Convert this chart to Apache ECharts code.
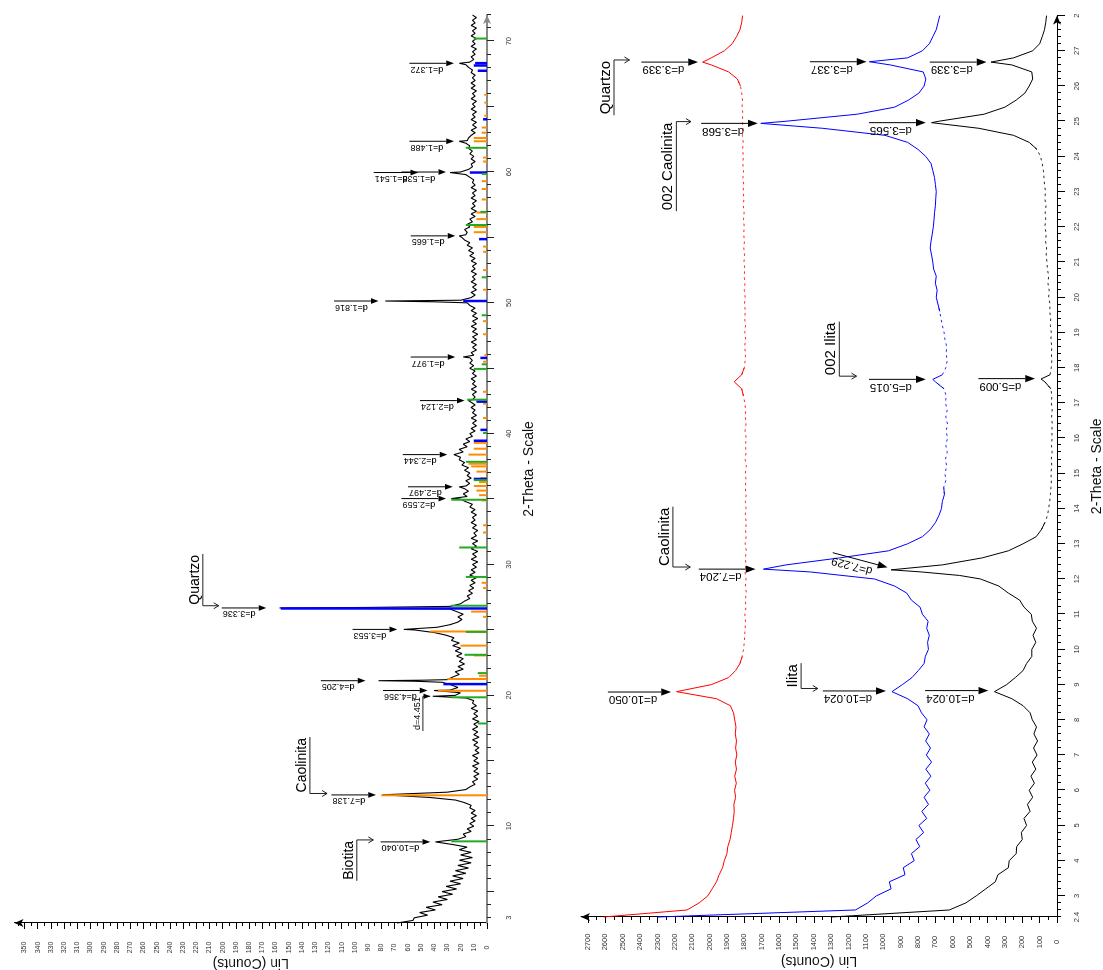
<!DOCTYPE html>
<html><head><meta charset="utf-8">
<script src="https://cdn.jsdelivr.net/npm/echarts@6/dist/echarts.min.js"></script>
<style>
html,body{margin:0;padding:0;background:#fff;overflow:hidden;width:1103px;height:970px;}
#chart{position:absolute;left:0;top:0;width:970px;height:1103px;transform-origin:0 0;transform:translateY(970px) rotate(-90deg);}
</style></head><body><div id="chart"></div>
<script>
// ---------------- DATA ----------------
// Upper diffractogram (2-Theta 2.6 .. 72, step 0.2) - Lin counts
const topScanStart = 2.6, topScanStep = 0.2;
const topScanCounts = [
 68,56,55,45,51,39,46,34,41,30,
 37,26,34,23,31,20,28,18,26,16,
 24,14,22,12,21,11,20,12,21,15,
 26,39,22,16,18,12,15,10,13,9,
 12,8,12,9,13,12,17,24,44,79,
 30,16,13,9,11,7,10,6,10,7,
 11,6,10,7,11,6,9,6,10,7,
 11,6,10,7,11,7,10,6,11,7,
 10,7,12,8,11,10,16,24,20,28,
 22,27,34,30,26,21,24,18,22,17,
 21,18,23,19,24,20,26,21,27,25,
 31,40,55,38,28,22,19,22,18,23,
 28,28,20,17,13,15,11,14,10,13,
 9,12,8,13,9,12,8,11,7,12,
 8,11,7,12,8,11,7,12,8,10,
 7,11,8,12,9,11,8,12,9,13,
 11,16,20,15,18,14,17,16,13,16,
 12,15,13,17,14,19,17,21,20,25,
 18,21,15,18,13,16,11,13,9,12,
 8,11,8,12,8,11,9,12,9,12,
 11,9,11,8,12,8,11,9,12,8,
 11,9,13,10,13,11,13,10,12,8,
 11,8,12,8,11,7,11,8,12,8,
 11,7,11,8,12,9,13,15,20,12,
 9,12,8,11,8,12,9,11,8,12,
 9,11,8,12,9,13,10,14,11,15,
 13,17,19,16,15,17,13,15,11,13,
 9,12,8,12,9,11,8,12,9,11,
 8,12,9,11,10,13,16,20,14,11,
 12,9,12,10,13,11,14,13,16,15,
 14,12,9,12,8,11,8,12,9,11,
 8,12,9,11,8,12,9,11,8,12,
 9,12,9,11,9,12,11,14,16,13,
 10,12,9,11,8,12,9,11,8,12,
 9,11,8,12,9,11,8,11
];
const topScanPeaks = [[19.93,41],[20.37,40],[21.08,55],[21.12,82],[21.16,48],[25.04,63],
 [26.64,95],[26.68,157],[26.72,90],[35.04,27],[35.94,21],[42.53,14],[45.86,18],
 [50.08,40],[50.14,77],[50.18,40],[55.12,21],[59.96,28],[62.35,21],[68.31,21]];

// reference stick patterns (2-Theta, height)
const quartzSticks = [[20.86,33],[26.64,156],[36.54,10],[39.46,10],[40.29,5],[42.45,8],[45.79,5],
 [50.14,18],[54.87,6],[59.96,13],[64.03,3],[67.74,7],[68.14,10],[68.32,9]];
const kaoliniteSticks = [[12.36,80],[20.35,37],[21.25,30],[21.5,6],[23.05,10],[23.8,20],[24.88,43],
 [26.0,3],[26.4,12],[28.2,3],[28.6,4],[32.45,3],[33.0,3],[34.9,4],[35.3,6],[35.65,8],[36.0,10],
 [36.3,6],[36.6,5],[37.1,8],[37.5,12],[37.7,14],[38.4,14],[38.85,10],[39.3,10],[41.2,3],[42.3,3],
 [43.2,3],[45.5,3],[46.0,2],[47.6,3],[48.6,3],[51.0,3],[52.5,3],[53.9,3],[54.3,3],[55.4,10],
 [55.8,10],[56.4,8],[56.9,8],[57.9,4],[58.7,4],[59.3,4],[60.8,3],[61.1,3],[62.35,10],[62.6,10],
 [63.0,4],[63.4,4],[64.3,2],[65.3,2],[65.9,2]];
const micaSticks = [[8.84,27],[17.85,7],[19.85,27],[21.7,7],[23.1,17],[24.85,16],[26.85,27],[29.05,16],
 [31.3,21],[34.95,27],[36.45,10],[37.85,16],[40.05,3],[42.6,15],[44.95,10],[45.3,4],[49.05,4],
 [51.95,4],[55.95,16],[56.95,5],[59.85,4],[61.85,16],[70.2,10]];

// Lower diffractograms (2-Theta 2.4 .. 28, step 0.2)
const lowScanStart = 2.4, lowScanStep = 0.2;
const blackCounts = [
 1300,620,525,465,410,355,340,280,275,235,
 232,200,205,175,190,155,170,140,160,130,
 150,122,142,115,135,112,133,118,142,155,
 195,260,360,290,240,195,175,145,145,122,
 138,118,142,148,190,215,280,335,440,780,
 660,430,280,195,120,90,70,55,48,42,
 38,35,32,35,30,33,28,32,28,30,
 27,31,28,32,30,35,70,40,33,30,
 32,30,35,33,38,36,42,40,48,45,
 52,48,55,58,62,60,66,62,70,65,
 68,63,70,66,72,75,78,85,95,115,
 160,250,450,680,420,300,235,185,160,140,
 145,260,250,140,100,85,72,65,60
];
const blackPeaks = [[12.1,560],[12.26,955],[17.68,92],[24.96,722],[26.68,380]];
const blueCounts = [
 2300,1160,1090,1040,955,965,875,885,822,838,
 790,812,768,795,750,778,740,765,732,758,
 726,755,722,752,728,756,735,765,748,780,
 800,860,950,890,835,798,765,758,740,745,
 735,750,742,775,788,838,865,935,1050,1420,
 1560,1250,970,860,775,730,700,680,665,660,
 648,652,640,645,635,642,632,640,630,638,
 630,640,632,642,638,650,700,660,640,632,
 638,635,645,650,660,668,675,685,695,690,
 700,695,710,715,722,730,725,718,712,708,
 705,700,698,695,700,705,715,725,755,800,
 860,990,1350,1560,1150,935,855,795,765,755,
 770,960,860,775,735,715,695,685,675
];
const bluePeaks = [[12.28,1690],[17.67,715],[24.94,1705],[26.69,1080]];
const redCounts = [
 2610,2130,2060,2010,1985,1960,1945,1925,1915,1900,
 1895,1882,1875,1868,1862,1858,1860,1850,1856,1846,
 1855,1845,1852,1843,1850,1845,1852,1848,1855,1862,
 1880,1960,2190,1990,1890,1850,1825,1812,1805,1800,
 1798,1795,1793,1797,1790,1795,1788,1794,1790,1796,
 1790,1794,1788,1795,1790,1793,1788,1795,1790,1794,
 1789,1795,1790,1794,1788,1795,1790,1793,1789,1796,
 1790,1794,1792,1797,1805,1815,1858,1815,1800,1795,
 1793,1798,1792,1797,1793,1798,1794,1799,1795,1800,
 1796,1801,1797,1802,1798,1803,1799,1804,1800,1805,
 1801,1806,1802,1807,1803,1808,1804,1809,1805,1810,
 1806,1811,1807,1812,1808,1813,1810,1815,1822,1840,
 1890,1990,1990,1915,1870,1845,1825,1815,1810
];
const redPeaks = [[26.68,2040]];

// tick labels
const topThetaLabels = [3,10,20,30,40,50,60,70];
const lowThetaLabels = [2.4,3,4,5,6,7,8,9,10,11,12,13,14,15,16,17,18,19,20,21,22,23,24,25,26,27,28];
const lowThetaLabelText = {28:'2'};

// annotations: [text, 2-Theta, arrow tip count, tilt deg]
const topDLabels = [['d=10.040',8.8,43],['d=7.138',12.39,84],['d=4.356',20.37,45],['d=4.205',21.12,92],
 ['d=3.553',25.04,68],['d=3.336',26.68,167],['d=2.559',35.04,31],['d=2.497',35.94,26],['d=2.344',38.4,30],
 ['d=2.124',42.53,17],['d=1.977',45.86,24],['d=1.816',50.14,82],['d=1.665',55.12,24],['d=1.538',60.0,31],
 ['d=1.541',59.96,52],['d=1.488',62.35,25],['d=1.372',68.31,25]];
// [text, 2-Theta, arrow tip count, underline count, side]
const topLLabels = [['d=4.451',19.93,43,48.5,-1]];
const topMinerals = [['Biotita',8.95,86,98.5,-1],['Caolinita',12.5,121,134,1],['Quartzo',26.85,203,215,1]];
const lowDLabels = [['d=10.050',8.79,2222],['d=10.024',8.82,985],['d=10.024',8.83,396],['d=7.204',12.28,1736],
 ['d=7.229',12.33,976,15],['d=5.015',17.67,756],['d=5.009',17.69,126],['d=3.568',24.94,1722],
 ['d=3.565',24.96,756],['d=3.339',26.68,2066],['d=3.337',26.69,1096],['d=3.339',26.68,406]];
const lowMinerals = [['Quartzo',26.74,2461,2550,-1],['002 Caolinita',24.99,2107,2191,-1],['002 Ilita',17.76,1154,1253,1],
 ['Caolinita',12.34,2111,2211,1],['Ilita',8.89,1377,1473,1]];

// ---------------- BUILD ----------------
const FONT = '"Liberation Sans", Arial, Helvetica, sans-serif';
const ctx2d = document.createElement('canvas').getContext('2d');
function textWidth(t, size){ ctx2d.font = size + 'px ' + FONT; return ctx2d.measureText(t).width; }
function buildScan(start, step, counts, peaks){
  const pts = counts.map((c,i)=>[+(start + i*step).toFixed(2), c]);
  return pts.concat(peaks).sort((a,b)=>a[0]-b[0]);
}
function range(a, b, s){ const out=[]; const n=Math.round((b-a)/s); for(let i=0;i<=n;i++) out.push(+(a+i*s).toFixed(2)); return out; }
// split a scan into a solid part and a faint dotted part (scan rendering style)
function splitScan(scan, ranges){
  const inside = x => ranges.some(r => x > r[0] && x < r[1]);
  const near = x => ranges.some(r => x >= r[0]-0.21 && x <= r[1]+0.21);
  return {
    solid: scan.map(p => [p[0], inside(p[0]) ? null : p[1]]),
    dotted: scan.map(p => [p[0], near(p[0]) ? p[1] : null])
  };
}

const topScan = buildScan(topScanStart, topScanStep, topScanCounts, topScanPeaks);
const blackScan = splitScan(buildScan(lowScanStart, lowScanStep, blackCounts, blackPeaks), [[13.6,17.4],[17.9,24.2]]);
const blueScan = splitScan(buildScan(lowScanStart, lowScanStep, blueCounts, bluePeaks), [[14.6,17.4],[17.9,19.6]]);
const redScan = splitScan(buildScan(lowScanStart, lowScanStep, redCounts, redPeaks), [[9.8,17.2],[18.0,26.0]]);

function stickRender(width, color){
  return function(params, api){
    const p0 = api.coord([api.value(0), 0]);
    const p1 = api.coord([api.value(0), api.value(1)]);
    return {type:'rect', shape:{x:p0[0]-width/2, y:p1[1], width:width, height:p0[1]-p1[1]}, style:{fill:color}};
  };
}
function dLabelRender(list, size){
  return function(params, api){
    const L = list[params.dataIndex];
    const tip = api.coord([L[1], L[2]]);
    const t = (L[3]||0)*Math.PI/180;
    const ux = Math.sin(t), uy = -Math.cos(t);
    const px = -Math.cos(t), py = -Math.sin(t);
    const w = textWidth(L[0], size);
    const aL = size*0.85, aW = size*0.32, gap = size*0.35;
    const total = aL + gap + w + 1;
    const base = [tip[0]+ux*aL, tip[1]+uy*aL];
    return {type:'group', children:[
      {type:'line', shape:{x1:base[0], y1:base[1], x2:tip[0]+ux*total, y2:tip[1]+uy*total}, style:{stroke:'#000', lineWidth:1}},
      {type:'polygon', shape:{points:[[tip[0],tip[1]],[base[0]+px*aW, base[1]+py*aW],[base[0]-px*aW, base[1]-py*aW]]}, style:{fill:'#000'}},
      {type:'text', x:tip[0]+ux*(aL+gap)+px*1.5, y:tip[1]+uy*(aL+gap)+py*1.5, rotation:Math.PI/2 - t,
        style:{text:L[0], font:size+'px '+FONT, fill:'#000', align:'left', verticalAlign:'bottom'}}
    ]};
  };
}
function mineralRender(list, size, filled){
  return function(params, api){
    const L = list[params.dataIndex];
    const tip = api.coord([L[1], L[2]]);
    const u = api.coord([L[1], L[3]]);
    const w = textWidth(L[0], size) + 2;
    const dir = L[4];
    const x0 = tip[0], uy = u[1], xEnd = x0 + dir*w;
    const ah = filled ? size*0.75 : 5, aw = filled ? size*0.3 : 3;
    const children = [
      {type:'polyline', shape:{points:[[xEnd,uy],[x0,uy],[x0,tip[1]]]}, style:{stroke:'#222', lineWidth:1, fill:'none'}},
      {type:'text', x:Math.min(x0,xEnd)+1, y:uy-1, style:{text:L[0], font:size+'px '+FONT, fill:'#000', align:'left', verticalAlign:'bottom'}}
    ];
    if (filled) children.push({type:'polygon', shape:{points:[[x0,tip[1]],[x0-aw,tip[1]-ah],[x0+aw,tip[1]-ah]]}, style:{fill:'#000'}});
    else children.push({type:'polyline', shape:{points:[[x0-aw,tip[1]-ah],[x0,tip[1]],[x0+aw,tip[1]-ah]]}, style:{stroke:'#222', lineWidth:1, fill:'none'}});
    return {type:'group', children};
  };
}

const plain = v => lowThetaLabelText[v] || String(v);
const labelStyle = {fontSize:7.5, color:'#333', fontFamily:FONT, formatter:plain};
const nameStyle = {fontSize:14, color:'#111', fontFamily:FONT};
const arrowLine = (color, width) => ({show:true, onZero:false, symbol:['none','arrow'], symbolSize:[6,9], lineStyle:{color:color, width:width}});

const xAxes = [
  {type:'value', gridIndex:0, position:'bottom', min:2.6, max:72, axisLine:arrowLine('#888',2),
   axisTick:{show:true, customValues:range(5,70,5), length:7, lineStyle:{color:'#222'}},
   axisLabel:Object.assign({}, labelStyle, {customValues:topThetaLabels, margin:18, formatter:v=>String(v)}), splitLine:{show:false},
   name:'2-Theta - Scale', nameLocation:'middle', nameGap:35, nameMoveOverlap:false, nameTextStyle:nameStyle},
  {type:'value', gridIndex:0, position:'bottom', min:2.6, max:72, axisLine:{show:false},
   axisTick:{show:true, customValues:range(3,72,1), length:4, lineStyle:{color:'#222'}}, axisLabel:{show:false}, splitLine:{show:false}},
  {type:'value', gridIndex:1, position:'bottom', min:2.4, max:28, axisLine:arrowLine('#000',1),
   axisTick:{show:true, customValues:range(3,28,1), length:8, lineStyle:{color:'#000'}},
   axisLabel:Object.assign({}, labelStyle, {customValues:lowThetaLabels, margin:16}), splitLine:{show:false},
   name:'2-Theta - Scale', nameLocation:'middle', nameGap:33, nameMoveOverlap:false, nameTextStyle:nameStyle},
  {type:'value', gridIndex:1, position:'bottom', min:2.4, max:28, axisLine:{show:false},
   axisTick:{show:true, customValues:range(2.4,28,0.2), length:4, lineStyle:{color:'#000'}}, axisLabel:{show:false}, splitLine:{show:false}}
];
const yAxes = [
  {type:'value', gridIndex:0, position:'left', min:0, max:357.5, axisLine:arrowLine('#000',1),
   axisTick:{show:true, customValues:range(0,350,10), length:6, lineStyle:{color:'#000'}},
   axisLabel:Object.assign({}, labelStyle, {customValues:range(0,350,10), margin:24.5, align:'center', fontSize:7, formatter:v=>String(v)}), splitLine:{show:false},
   name:'Lin (Counts)', nameLocation:'middle', nameGap:33, nameMoveOverlap:false, nameRotate:90, nameTextStyle:nameStyle},
  {type:'value', gridIndex:0, position:'left', min:0, max:357.5, axisLine:{show:false},
   axisTick:{show:true, customValues:range(5,355,10), length:3, lineStyle:{color:'#000'}}, axisLabel:{show:false}, splitLine:{show:false}},
  {type:'value', gridIndex:1, position:'left', min:0, max:2740, axisLine:arrowLine('#000',1),
   axisTick:{show:true, customValues:range(0,2700,100), length:6, lineStyle:{color:'#000'}},
   axisLabel:Object.assign({}, labelStyle, {customValues:range(0,2700,100), margin:25, align:'center', formatter:v=>String(v)}), splitLine:{show:false},
   name:'Lin (Counts)', nameLocation:'middle', nameGap:37, nameMoveOverlap:false, nameRotate:90, nameTextStyle:nameStyle},
  {type:'value', gridIndex:1, position:'left', min:0, max:2740, axisLine:{show:false},
   axisTick:{show:true, customValues:range(50,2650,100), length:3, lineStyle:{color:'#000'}}, axisLabel:{show:false}, splitLine:{show:false}}
];

function lineSeries(data, xi, color, width, z, dashed){
  return {type:'line', xAxisIndex:xi, yAxisIndex:xi, data:data, symbol:'none', showSymbol:false, connectNulls:false,
    lineStyle:{color:color, width:width, type: dashed ? [2.5,3.5] : 'solid', opacity: dashed ? 0.85 : 1},
    itemStyle:{color:color}, animation:false, silent:true, z:z};
}
function customSeries(data, xi, render, z){
  return {type:'custom', xAxisIndex:xi, yAxisIndex:xi, data:data, renderItem:render, encode:{x:0,y:1},
    clip:false, silent:true, animation:false, z:z};
}
const toXY = list => list.map(l=>[l[1], l[2]]);

const option = {
  backgroundColor:'#fff',
  animation:false,
  grid:[{left:47, right:15, top:14.5, height:472.5, outerBoundsMode:'none', containLabel:false},
        {left:53, right:15.6, top:581, height:476, outerBoundsMode:'none', containLabel:false}],
  xAxis:xAxes, yAxis:yAxes,
  series:[
    lineSeries(topScan, 0, '#000', 1.1, 2),
    customSeries(kaoliniteSticks, 0, stickRender(2,'#ff8c00'), 3),
    customSeries(quartzSticks, 0, stickRender(2.5,'#0000ff'), 4),
    customSeries(micaSticks, 0, stickRender(2,'#22aa22'), 5),
    customSeries(toXY(topDLabels), 0, dLabelRender(topDLabels, 9), 6),
    customSeries(toXY(topLLabels), 0, mineralRender(topLLabels, 9, true), 6),
    customSeries(toXY(topMinerals), 0, mineralRender(topMinerals, 14, false), 6),
    lineSeries(blackScan.solid, 2, '#000', 1, 2),
    lineSeries(blackScan.dotted, 2, '#000', 1, 2, true),
    lineSeries(blueScan.solid, 2, '#0000ff', 1, 3),
    lineSeries(blueScan.dotted, 2, '#0000ff', 1, 3, true),
    lineSeries(redScan.solid, 2, '#ff0000', 1, 4),
    lineSeries(redScan.dotted, 2, '#ff0000', 1, 4, true),
    customSeries(toXY(lowDLabels), 2, dLabelRender(lowDLabels, 11.5), 6),
    customSeries(toXY(lowMinerals), 2, mineralRender(lowMinerals, 15, false), 6)
  ]
};
const chart = echarts.init(document.getElementById('chart'), null, {renderer:'canvas', devicePixelRatio:1});
chart.setOption(option);
</script></body></html>
